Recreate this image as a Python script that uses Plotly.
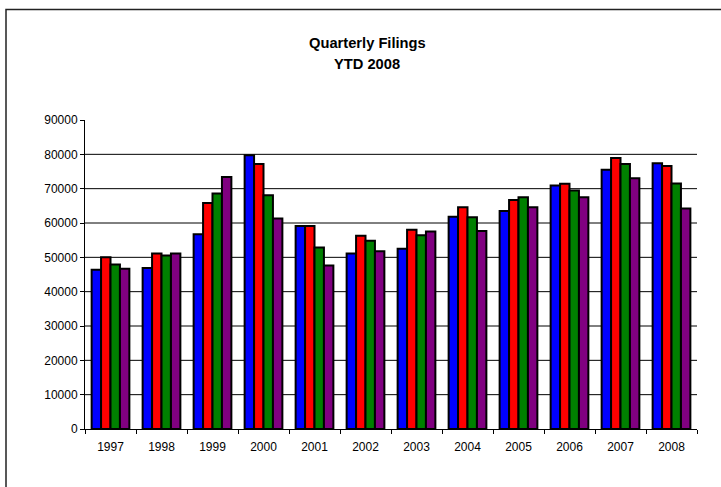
import plotly.graph_objects as go

years = ["1997", "1998", "1999", "2000", "2001", "2002", "2003", "2004", "2005", "2006", "2007", "2008"]
q1 = [46400, 46900, 56700, 79700, 59100, 51100, 52500, 61800, 63500, 70900, 75500, 77400]
q2 = [50000, 51100, 65800, 77200, 59100, 56300, 58000, 64600, 66700, 71400, 78900, 76600]
q3 = [47900, 50500, 68600, 68100, 52900, 54800, 56400, 61700, 67500, 69500, 77200, 71500]
q4 = [46700, 51100, 73400, 61300, 47600, 51800, 57500, 57700, 64600, 67500, 73000, 64200]
series_names = ["Q1", "Q2", "Q3", "Q4"]
series_colors = ["#0000FF", "#FF0000", "#008000", "#800080"]
y_ticks = [0, 10000, 20000, 30000, 40000, 50000, 60000, 70000, 80000, 90000]
title_lines = ["Quarterly Filings", "YTD 2008"]

W, H = 721, 487
ml, mr, mt, mb = 85, 24, 120, 58
pw = W - ml - mr
ph = H - mt - mb

fig = go.Figure()
for name, vals, col in zip(series_names, [q1, q2, q3, q4], series_colors):
    fig.add_trace(go.Bar(x=years, y=vals, name=name,
                         marker=dict(color=col, line=dict(color="black", width=2))))

shapes = []
for t in y_ticks[1:-1]:
    shapes.append(dict(type="line", xref="paper", yref="y", x0=0, x1=1, y0=t, y1=t,
                       line=dict(color="black", width=1), layer="below"))
# outer frame
shapes.append(dict(type="rect", xref="paper", yref="paper",
                   x0=(6 - ml) / pw, x1=1.2, y0=-0.5, y1=1 + (mt - 9.5) / ph,
                   line=dict(color="#222222", width=1.5), layer="below"))

annotations = []
for i, line in enumerate(title_lines):
    yc = 43 + 20.5 * i
    annotations.append(dict(text="<b>" + line + "</b>", xref="paper", yref="paper",
                            x=(367 - ml) / pw, y=1 + (mt - yc) / ph,
                            xanchor="center", yanchor="middle", showarrow=False,
                            font=dict(size=14.7, color="black")))

fig.update_layout(
    width=W, height=H,
    margin=dict(l=ml, r=mr, t=mt, b=mb),
    paper_bgcolor="white", plot_bgcolor="white",
    barmode="group", bargap=0.26, bargroupgap=0,
    showlegend=False,
    font=dict(family="Liberation Sans, Arial, sans-serif", size=12, color="black"),
    shapes=shapes,
    annotations=annotations,
)
fig.update_xaxes(showline=True, linecolor="black", linewidth=1, ticks="outside", ticklen=4,
                 tickcolor="black", tickson="boundaries", showgrid=False,
                 tickfont=dict(size=12), ticklabelstandoff=7)
fig.update_yaxes(range=[0, 90000], tickvals=y_ticks, ticktext=[str(v) for v in y_ticks],
                 showline=True, linecolor="black", linewidth=1, ticks="outside", ticklen=4,
                 tickcolor="black", showgrid=False, zeroline=False, tickfont=dict(size=12))

fig.write_html("out.html", config={"displayModeBar": False},
               post_script="document.body.style.margin='0';document.body.style.overflow='hidden';")
